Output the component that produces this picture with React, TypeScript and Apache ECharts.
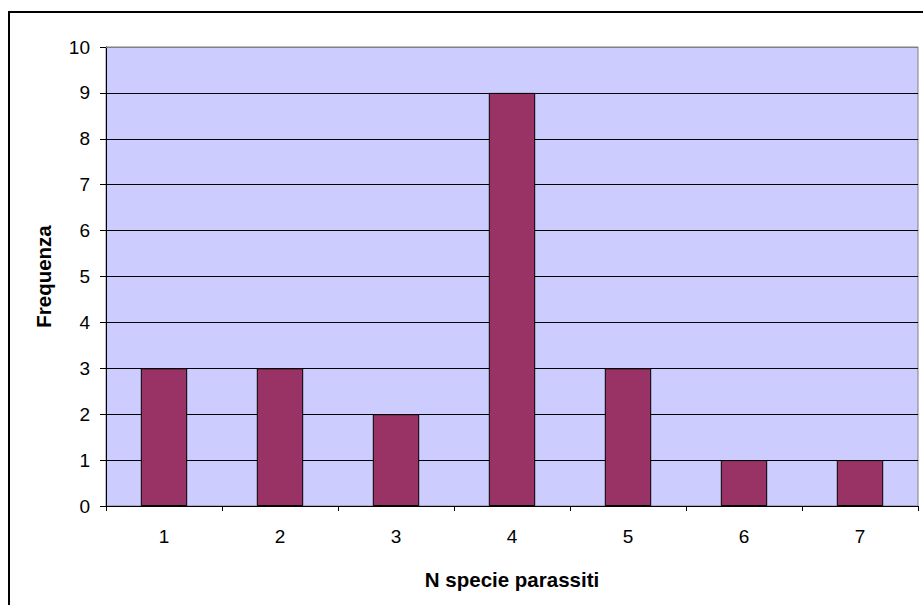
import React, { useEffect, useRef } from "react";
import * as echarts from "echarts";

// Frequency of hosts by number of parasite species found
const categories = ["1", "2", "3", "4", "5", "6", "7"];
const frequencies = [3, 3, 2, 9, 3, 1, 1];
const yTicks = { min: 0, max: 10, interval: 1 };

const FONT = "'Liberation Sans', Arial, sans-serif";

export default function App() {
  const ref = useRef<HTMLDivElement>(null);

  useEffect(() => {
    if (!ref.current) return;
    const chart = echarts.init(ref.current, undefined, { renderer: "svg" });
    chart.setOption({
      animation: false,
      backgroundColor: "#ffffff",
      textStyle: { fontFamily: FONT },
      grid: {
        left: 106,
        top: 47,
        right: 5,
        bottom: 99,
        show: true,
        backgroundColor: "#CCCCFF",
        borderColor: "#808080",
        borderWidth: 1,
      },
      graphic: [
        {
          type: "rect",
          shape: { x: 9, y: 12, width: 940, height: 640 },
          style: { fill: "none", stroke: "#000000", lineWidth: 2 },
          z: 100,
        },
        {
          type: "line",
          shape: { x1: 106, y1: 47.5, x2: 918, y2: 47.5 },
          style: { stroke: "#808080", lineWidth: 1 },
          z: 100,
        },
      ],
      xAxis: {
        type: "category",
        data: categories,
        name: "N specie parassiti",
        nameLocation: "middle",
        nameGap: 63,
        nameTextStyle: { fontSize: 20.5, fontWeight: "bold", color: "#000", fontFamily: FONT },
        axisLine: { lineStyle: { color: "#000", width: 1 } },
        axisTick: { show: true, length: 5, lineStyle: { color: "#000" }, alignWithLabel: false },
        axisLabel: { fontSize: 19, color: "#000", margin: 21, fontFamily: FONT },
        splitLine: { show: false },
      },
      yAxis: {
        type: "value",
        min: yTicks.min,
        max: yTicks.max,
        interval: yTicks.interval,
        name: "Frequenza",
        nameLocation: "middle",
        nameGap: 52,
        nameRotate: 90,
        nameTextStyle: { fontSize: 20.5, fontWeight: "bold", color: "#000", fontFamily: FONT },
        axisLine: { show: true, lineStyle: { color: "#000", width: 1 } },
        axisTick: { show: true, length: 6, lineStyle: { color: "#000" } },
        axisLabel: { fontSize: 19, color: "#000", margin: 16, fontFamily: FONT },
        splitLine: { show: true, lineStyle: { color: "#000", width: 1 } },
      },
      series: [
        {
          type: "bar",
          data: frequencies,
          barWidth: "40%",
          itemStyle: { color: "#993366", borderColor: "#000", borderWidth: 1 },
        },
      ],
    });
    return () => chart.dispose();
  }, []);

  return (
    <div
      ref={ref}
      style={{ position: "fixed", left: 0, top: 0, width: 923, height: 605, background: "#fff" }}
    />
  );
}
